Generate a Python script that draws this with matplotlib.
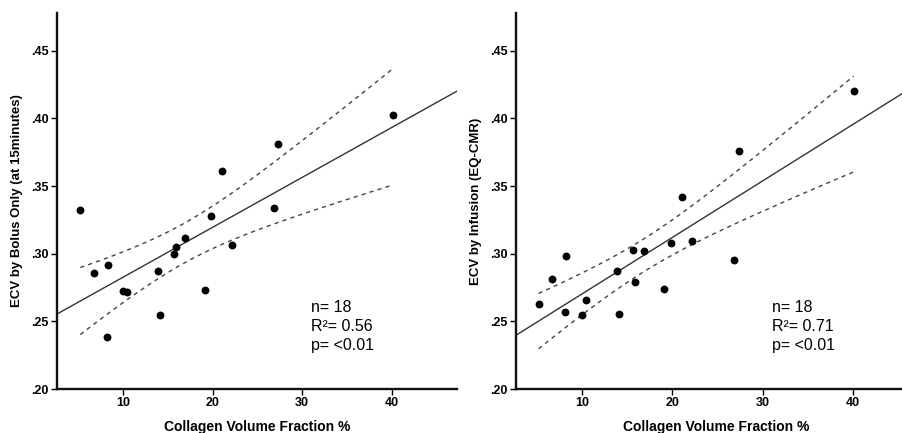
import matplotlib
matplotlib.use('Agg')
import matplotlib.pyplot as plt
from matplotlib.ticker import FuncFormatter
import numpy as np

# collagen volume fraction (%) - same patients in both panels
cvf = [5.2, 6.7, 8.15, 8.25, 10.0, 10.4, 13.85, 14.1, 15.65, 15.9,
       16.9, 19.1, 19.85, 21.05, 22.15, 26.8, 27.35, 40.1]

# ECV by bolus only (at 15 minutes)
ecv_bolus = [0.332, 0.2854, 0.2382, 0.292, 0.2726, 0.2719, 0.2876, 0.2544, 0.2995,
             0.3051, 0.312, 0.2731, 0.3278, 0.3615, 0.3061, 0.3339, 0.3812, 0.4026]

# ECV by infusion (EQ-CMR)
ecv_infusion = [0.2628, 0.2812, 0.2571, 0.2987, 0.2549, 0.2657, 0.2869, 0.2551, 0.3029,
                0.2788, 0.3024, 0.2743, 0.3081, 0.3423, 0.3093, 0.2953, 0.376, 0.4201]

ylabels = ['ECV by Bolus Only (at 15minutes)', 'ECV by Infusion (EQ-CMR)']
stats_text = ['n= 18\nR\u00b2= 0.56\np= <0.01', 'n= 18\nR\u00b2= 0.71\np= <0.01']
yticks = [0.20, 0.25, 0.30, 0.35, 0.40, 0.45]
xticks = [10, 20, 30, 40]

plt.rcParams['font.family'] = ['Liberation Sans', 'DejaVu Sans']


def draw_panel(ax, x, y, ylabel, label, xlim):
    x = np.array(x)
    y = np.array(y)
    slope, icpt = np.polyfit(x, y, 1)

    # fit line across whole axis
    xl = np.linspace(xlim[0], xlim[1], 50)
    ax.plot(xl, icpt + slope * xl, color='#333333', lw=1.0, zorder=2)

    # 95% confidence band of the mean, over the data range
    n = len(x)
    resid = y - (icpt + slope * x)
    s = np.sqrt(np.sum(resid ** 2) / (n - 2))
    xc = np.linspace(x.min(), x.max(), 100)
    se = s * np.sqrt(1.0 / n + (xc - x.mean()) ** 2 / np.sum((x - x.mean()) ** 2))
    t = 2.12
    yc = icpt + slope * xc
    ax.plot(xc, yc + t * se, color='#444444', lw=1.0, ls=(0, (3, 3)), zorder=2)
    ax.plot(xc, yc - t * se, color='#444444', lw=1.0, ls=(0, (3, 3)), zorder=2)

    ax.scatter(x, y, s=32, color='black', zorder=3, linewidths=0)

    ax.set_xlim(*xlim)
    ax.set_ylim(0.20, 0.478)
    ax.set_xticks(xticks)
    ax.set_yticks(yticks)
    ax.yaxis.set_major_formatter(FuncFormatter(lambda v, p: ('%.2f' % v)[1:]))

    for side in ['top', 'right']:
        ax.spines[side].set_visible(False)
    for side in ['left', 'bottom']:
        ax.spines[side].set_linewidth(1.7)
        ax.spines[side].set_color('#111111')
    ax.tick_params(direction='out', length=4.5, width=1.0, labelsize=9, pad=1.5)
    for lab in ax.get_xticklabels() + ax.get_yticklabels():
        lab.set_fontweight('bold')

    ax.set_xlabel('Collagen Volume Fraction %', fontsize=10, fontweight='bold', labelpad=8)
    ax.set_ylabel(ylabel, fontsize=9.5, fontweight='bold', labelpad=6)

    ax.text(31.0, 0.2655, label, fontsize=11.5, va='top', ha='left', linespacing=1.32)


fig = plt.figure(figsize=(9.02, 4.33), dpi=100)
ax1 = fig.add_axes([57 / 902, 44 / 433, 400 / 902, 376 / 433])
ax2 = fig.add_axes([516 / 902, 44 / 433, 400 / 902, 376 / 433])

draw_panel(ax1, cvf, ecv_bolus, ylabels[0], stats_text[0], (2.6, 47.3))
draw_panel(ax2, cvf, ecv_infusion, ylabels[1], stats_text[1], (2.7, 47.0))

fig.savefig('out.png', dpi=100)
plt.close()
